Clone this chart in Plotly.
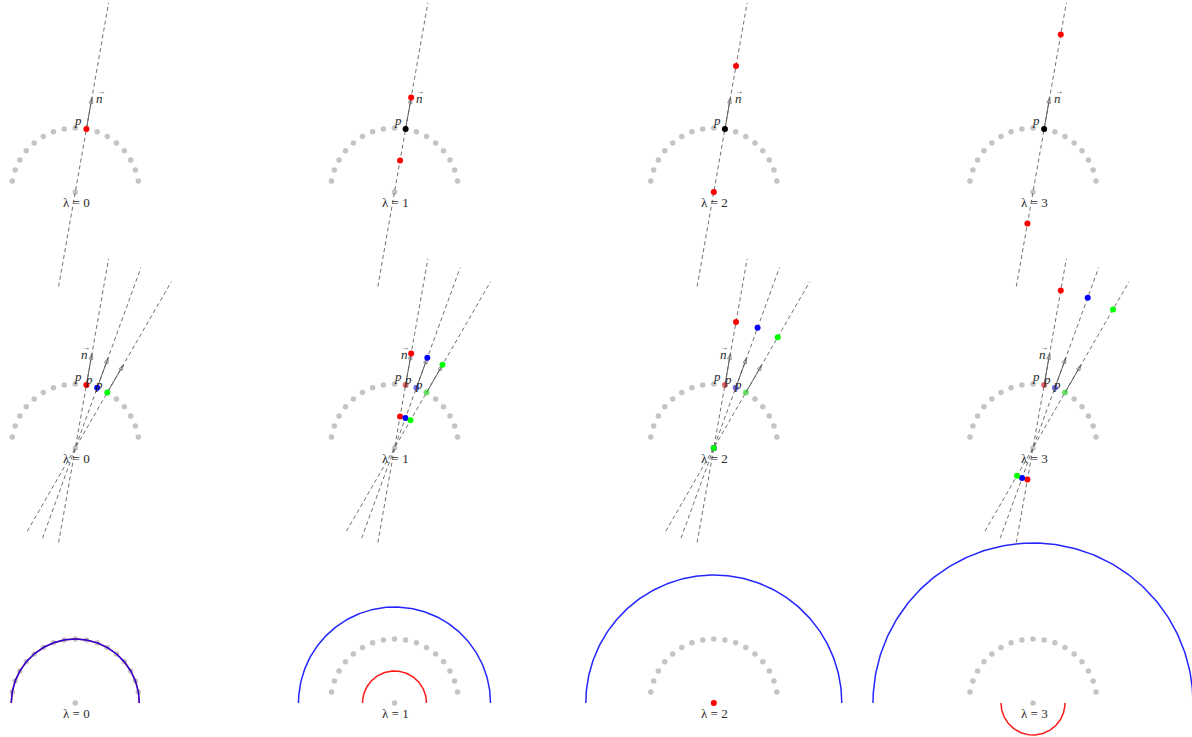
import numpy as np
import plotly.graph_objects as go

# ---------------- data ----------------
lambdas = [0, 1, 2, 3]
lambda_labels = ["λ = 0", "λ = 1", "λ = 2", "λ = 3"]
arc_angles_deg = [10, 20, 30, 40, 50, 60, 70, 80, 90, 100, 110, 120, 130, 140, 150, 160, 170]
single_angles_deg = [80]
single_colors = ["#ff0000"]
multi_angles_deg = [80, 70, 60]
multi_colors = ["#ff0000", "#0000ff", "#00ff00"]
normal_length = 0.5      # length of the drawn normal n
offset_step = 0.5        # offset along n per unit of lambda
line_extent = [-2.5, 2.0]  # dashed line parameter range along n, from p
base_radius = 1.0

# ---------------- layout constants ----------------
W, H = 1192, 737
S = 64.0                      # pixels per unit
col_cx = [75.3, 394.5, 713.8, 1033.0]
row_cy = [192.0, 448.0, 703.0]

GRAY = "#c4c4c4"
LINE = "#606060"
TXT = "#2a2a2a"
FONT = "Liberation Serif"

fig = go.Figure()
annotations = []


def axn(kind, i):
    return kind if i == 0 else f"{kind}{i + 1}"


def add_gray(xa, ya):
    th = np.radians(arc_angles_deg)
    fig.add_trace(go.Scatter(x=list(base_radius * np.cos(th)) + [0.0],
                             y=list(base_radius * np.sin(th)) + [0.0],
                             mode="markers", xaxis=xa, yaxis=ya,
                             marker=dict(color=GRAY, size=5.5), hoverinfo="skip"))


def add_pt(xa, ya, x, y, color, opacity=1.0):
    fig.add_trace(go.Scatter(x=[x], y=[y], mode="markers", xaxis=xa, yaxis=ya,
                             opacity=opacity,
                             marker=dict(color=color, size=6), hoverinfo="skip"))


def add_text(xr, yr, x, y, text, xs, ys, italic=False, size=13):
    annotations.append(dict(x=x, y=y, xref=xr, yref=yr, text=f"<i>{text}</i>" if italic else text,
                            showarrow=False, xshift=xs, yshift=ys,
                            font=dict(family=FONT, size=size, color=TXT)))


for r in range(3):
    ya = axn("y", r)
    for c, lam in enumerate(lambdas):
        xa = axn("x", c)
        add_gray(xa, ya)
        if r < 2:
            angles = single_angles_deg if r == 0 else multi_angles_deg
            colors = single_colors if r == 0 else multi_colors
            # dashed lines
            for a in angles:
                u = np.array([np.cos(np.radians(a)), np.sin(np.radians(a))])
                p = base_radius * u
                e0, e1 = p + line_extent[0] * u, p + line_extent[1] * u
                fig.add_trace(go.Scatter(x=[e0[0], e1[0]], y=[e0[1], e1[1]], mode="lines",
                                         xaxis=xa, yaxis=ya, hoverinfo="skip",
                                         line=dict(color=LINE, width=0.9, dash="4px,3px")))
            # normals
            for a in angles:
                u = np.array([np.cos(np.radians(a)), np.sin(np.radians(a))])
                p = base_radius * u
                t = p + normal_length * u
                fig.add_trace(go.Scatter(x=[p[0], t[0]], y=[p[1], t[1]], mode="lines+markers",
                                         xaxis=xa, yaxis=ya, hoverinfo="skip",
                                         line=dict(color=LINE, width=1),
                                         marker=dict(symbol="arrow-open", angleref="previous",
                                                     size=[0, 6], color=LINE,
                                                     line=dict(color=LINE, width=1))))
            # points
            for a, col in zip(angles, colors):
                u = np.array([np.cos(np.radians(a)), np.sin(np.radians(a))])
                p = base_radius * u
                if lam == 0:
                    add_pt(xa, ya, p[0], p[1], col)
                else:
                    if r == 0:
                        add_pt(xa, ya, p[0], p[1], "#000000")
                    else:
                        add_pt(xa, ya, p[0], p[1], col, opacity=0.45)
                    for sgn in (1, -1):
                        q = p + sgn * offset_step * lam * u
                        add_pt(xa, ya, q[0], q[1], col)
            # labels
            for i, a in enumerate(angles):
                u = np.array([np.cos(np.radians(a)), np.sin(np.radians(a))])
                p = base_radius * u
                add_text(xa, ya, p[0], p[1], "p", -8, 8, italic=True)
                if i == 0:
                    t = p + normal_length * u
                    dx = 8 if r == 0 else -7
                    add_text(xa, ya, t[0], t[1], "n", dx, -1, italic=True)
                    add_text(xa, ya, t[0], t[1], "→", dx + 1, 6, size=8)
        else:
            th = np.linspace(0, np.pi, 181)
            rr = base_radius - offset_step * lam
            if abs(rr) < 1e-9:
                add_pt(xa, ya, 0.0, 0.0, "#ff0000")
            else:
                fig.add_trace(go.Scatter(x=rr * np.cos(th), y=rr * np.sin(th), mode="lines",
                                         xaxis=xa, yaxis=ya, hoverinfo="skip", opacity=0.9,
                                         line=dict(color="#ff0000", width=1.5)))
            rb = base_radius + offset_step * lam
            fig.add_trace(go.Scatter(x=rb * np.cos(th), y=rb * np.sin(th), mode="lines",
                                     xaxis=xa, yaxis=ya, hoverinfo="skip", opacity=0.85,
                                     line=dict(color="#0000ff", width=1.5)))
        add_text(xa, ya, 0.0, 0.0, lambda_labels[c], 1, -10)

layout = dict(width=W, height=H, margin=dict(l=0, r=0, t=0, b=0),
              paper_bgcolor="white", plot_bgcolor="rgba(0,0,0,0)",
              showlegend=False, annotations=annotations)
for c, cx in enumerate(col_cx):
    layout["xaxis" if c == 0 else f"xaxis{c + 1}"] = dict(
        domain=[0, 1], range=[(0 - cx) / S, (W - cx) / S], visible=False, fixedrange=True)
for r, cy in enumerate(row_cy):
    layout["yaxis" if r == 0 else f"yaxis{r + 1}"] = dict(
        domain=[0, 1], range=[(cy - H) / S, cy / S], visible=False, fixedrange=True)
fig.update_layout(**layout)
fig.write_html("out.html", config={"displayModeBar": False},
               post_script="document.body.style.margin='0';document.body.style.overflow='hidden';")
